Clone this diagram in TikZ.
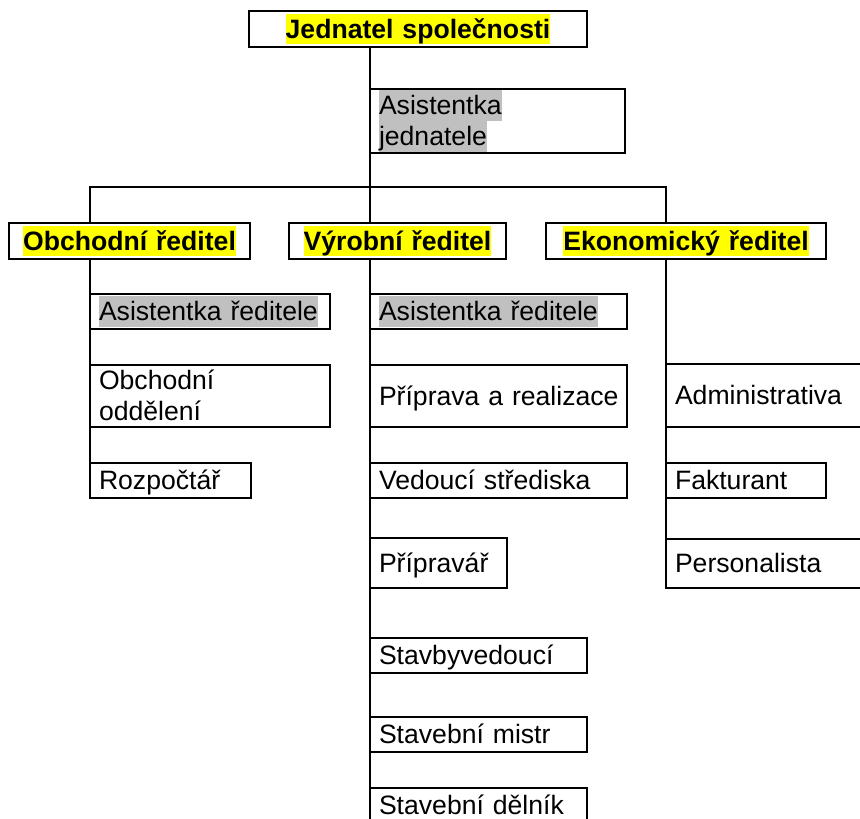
\documentclass[tikz,border=0pt]{standalone}
\usepackage{fontspec}
\setmainfont{Liberation Sans}
\definecolor{hly}{RGB}{255,255,0}
\definecolor{hlg}{RGB}{192,192,192}
\newcommand\mystrut{\rule[-6pt]{0pt}{30.5pt}}
\newcommand\hly[1]{{\setlength{\fboxsep}{0pt}\colorbox{hly}{\mystrut#1}}}
\newcommand\hlg[1]{{\setlength{\fboxsep}{0pt}\colorbox{hlg}{\mystrut#1}}}
\newcommand\orgline[1]{\mbox{\mystrut#1}}
\begin{document}
\begin{tikzpicture}[x=1pt,y=-1pt,
  box/.style={draw, line width=2pt, rectangle, inner xsep=9pt, inner ysep=0pt,
    outer sep=0pt, anchor=north west, align=left,
    font=\fontsize{26.6}{31}\selectfont},
  head/.style={box, align=center, font=\fontsize{26.6}{31}\selectfont\bfseries},
  conn/.style={draw, line width=2pt}]
\useasboundingbox (0,0) rectangle (860,819);
\clip (0,0) rectangle (860,819);
\fill[white] (0,0) rectangle (860,819);

% top level
\node[head, minimum width=338pt, minimum height=36pt, text width=320pt] (jed) at (249,11) {\hly{Jednatel společnosti}};
\node[box, minimum width=255pt, minimum height=64pt, text width=237pt] (asj) at (370,89) {\hlg{Asistentka}\\\hlg{jednatele}};

% directors
\node[head, minimum width=241pt, minimum height=36pt, text width=223pt] (obch) at (9,223) {\hly{Obchodní ředitel}};
\node[head, minimum width=217pt, minimum height=36pt, text width=199pt] (vyr) at (289,223) {\hly{Výrobní ředitel}};
\node[head, minimum width=280pt, minimum height=36pt, text width=262pt] (eko) at (546,223) {\hly{Ekonomický ředitel}};

% left column
\node[box, minimum width=240pt, minimum height=35pt, text width=222pt] (oas) at (90,294) {\hlg{Asistentka ředitele}};
\node[box, minimum width=240pt, minimum height=62pt, text width=222pt] (ood) at (90,365) {\orgline{Obchodní}\\\orgline{oddělení}};
\node[box, minimum width=161pt, minimum height=35pt, text width=143pt] (roz) at (90,463) {\orgline{Rozpočtář}};

% middle column
\node[box, minimum width=257pt, minimum height=35pt, text width=239pt] (vas) at (370,294) {\hlg{Asistentka ředitele}};
\node[box, minimum width=257pt, minimum height=62pt, text width=239pt] (ppr) at (370,365) {\orgline{Příprava a realizace}};
\node[box, minimum width=257pt, minimum height=35pt, text width=239pt] (ved) at (370,463) {\orgline{Vedoucí střediska}};
\node[box, minimum width=137pt, minimum height=50pt, text width=119pt] (pri) at (370,538) {\orgline{Přípravář}};
\node[box, minimum width=217pt, minimum height=35pt, text width=199pt] (stv) at (370,638) {\orgline{Stavbyvedoucí}};
\node[box, minimum width=217pt, minimum height=35pt, text width=199pt] (smi) at (370,717) {\orgline{Stavební mistr}};
\node[box, minimum width=217pt, minimum height=35pt, text width=199pt] (sde) at (370,788) {\orgline{Stavební dělník}};

% right column
\node[box, minimum width=214pt, minimum height=63pt, text width=196pt] (adm) at (666,364) {\orgline{Administrativa}};
\node[box, minimum width=160pt, minimum height=35pt, text width=142pt] (fak) at (666,463) {\orgline{Fakturant}};
\node[box, minimum width=214pt, minimum height=49pt, text width=196pt] (per) at (666,539) {\orgline{Personalista}};

% connectors
\coordinate (bar) at (370,187);
\draw[conn] (jed.south -| asj.west) -- (bar);
\draw[conn] (oas.west |- obch.north) |- (adm.west |- bar) -- (adm.west |- eko.north);
\draw[conn] (bar) -- (vyr.north -| vas.west);
\draw[conn] (obch.south -| oas.west) -- (roz.south west);
\draw[conn] (vyr.south -| vas.west) -- (sde.south west);
\draw[conn] (eko.south -| adm.west) -- (per.south west);
\end{tikzpicture}
\end{document}
